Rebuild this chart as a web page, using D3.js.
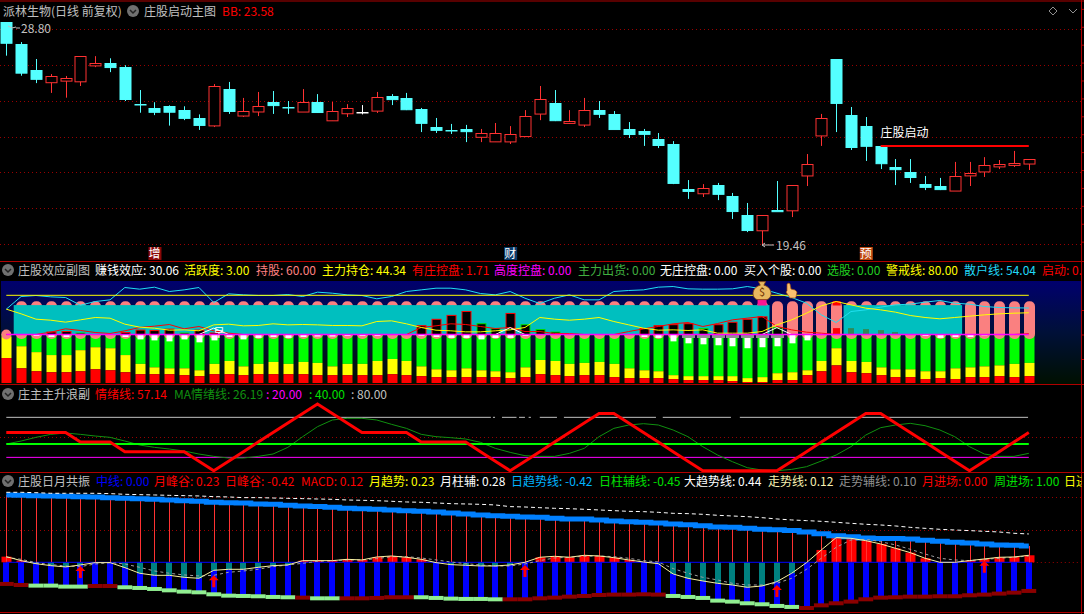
<html>
<head>
<meta charset="utf-8">
<script src="https://d3js.org/d3.v7.min.js"></script>
<style>
  body { margin: 0; background: #000; overflow: hidden; }
  text { font-family: "Noto Sans CJK SC", "Noto Sans", sans-serif; font-size: 12px; }
</style>
</head>
<body>
<div id="vis"></div>
<script>
// candles
var open = [28.80,27.88,26.79,26.26,26.34,26.30,26.97,27.08,26.91,25.36,25.20,25.28,25.11,24.78,24.46,25.99,24.87,25.04,25.45,25.24,25.04,25.45,24.67,24.96,25.05,25.08,25.70,25.62,25.15,24.40,24.27,24.32,23.98,23.79,23.79,24.02,24.96,25.41,24.57,24.50,25.11,24.95,24.32,24.23,23.90,23.69,21.80,21.61,21.97,21.51,20.72,20.06,20.93,20.90,22.36,24.04,27.25,24.90,24.44,23.61,22.73,22.52,22.01,21.93,21.73,22.36,22.53,22.74,22.81,22.86]
var close = [27.93,26.68,26.42,26.52,26.45,27.36,27.07,26.91,25.57,25.34,25.04,25.04,24.78,24.49,26.11,25.07,25.06,25.27,25.32,25.22,25.44,25.03,25.06,25.18,25.05,25.65,25.57,25.15,24.57,24.28,24.25,24.23,24.14,24.14,24.10,24.86,25.57,24.69,24.65,25.11,24.95,24.32,24.11,24.11,23.65,22.06,21.72,21.83,21.60,20.88,20.09,20.70,20.88,21.96,22.84,24.77,25.41,23.56,23.61,22.89,22.64,22.31,21.89,21.80,22.34,22.46,22.80,22.84,22.89,23.05]
var high = [28.80,27.96,27.25,26.62,26.54,27.36,27.37,27.28,26.99,25.95,25.44,25.31,25.27,24.93,26.20,26.29,25.62,25.87,25.91,25.49,25.99,25.78,25.45,25.36,25.32,25.87,25.78,25.83,25.20,24.78,24.53,24.49,24.32,24.57,24.44,25.11,26.12,25.95,25.11,25.62,25.49,25.07,24.61,24.32,24.15,23.81,22.18,22.01,22.06,21.64,21.22,20.70,22.14,21.96,23.27,24.95,27.25,25.24,24.82,23.61,23.06,23.06,22.35,22.27,22.94,22.94,23.14,23.02,23.40,23.05]
var low = [27.39,26.55,26.24,25.83,25.63,26.12,26.91,26.70,25.49,25.00,24.90,24.46,24.69,24.28,24.40,24.95,24.82,24.86,24.95,24.95,25.04,24.99,24.67,24.82,24.93,24.99,25.32,25.11,24.19,24.15,24.11,23.77,23.77,23.79,23.69,23.98,24.69,24.65,24.53,24.40,24.78,24.32,23.94,23.61,23.52,22.01,21.39,21.47,21.34,20.55,20.00,19.46,20.88,20.63,21.93,23.61,24.19,23.44,22.98,22.64,21.97,22.06,21.76,21.76,21.73,21.93,22.31,22.64,22.73,22.60]
var priceGrid = [28.5,27,25.5,24,22.5,21,19.5]
var priceHigh = 28.80
var priceLow = 19.46
var startPrice = 23.61
var startFrom = 59
var startLabel = "庄股启动"
var eventIndex = [10,34,58]
var eventLabels = ["增","财","预"]

// effect panel, stacked bars hang below zero
var yellowTop = [-4,-24,-36,-42,-42,-32,-26,-28,-42,-60,-67,-69,-69,-73,-60,-54,-65,-60,-56,-60,-56,-58,-65,-60,-60,-54,-50,-54,-65,-71,-73,-69,-73,-75,-77,-67,-52,-54,-60,-58,-56,-60,-69,-73,-75,-83,-85,-85,-85,-85,-89,-87,-79,-77,-73,-54,-28,-54,-56,-67,-71,-71,-75,-75,-69,-67,-65,-63,-60,-58]
var redTop = [-48,-69,-75,-77,-77,-75,-71,-73,-77,-81,-81,-81,-83,-85,-81,-81,-83,-81,-81,-81,-81,-83,-83,-83,-83,-83,-81,-83,-85,-87,-87,-87,-87,-87,-89,-87,-81,-83,-85,-83,-83,-87,-89,-89,-89,-91,-93,-93,-93,-95,-97,-97,-93,-93,-83,-75,-63,-77,-79,-83,-87,-87,-91,-89,-91,-87,-87,-85,-87,-85]
var whiteDrop = [0,0,-3,-5,-5,0,0,0,-5,-10,-12,-14,-10,-16,-12,-5,-10,-7,-5,-7,-5,-4,-4,-3,-3,-3,0,0,-3,-5,-7,-7,-10,-7,-7,-3,0,0,0,0,0,0,0,-5,-7,-14,-18,-20,-22,-24,-28,-26,-24,-18,-12,0,0,0,0,0,0,0,-3,-7,-5,-5,-2,0,0,0]
var controlIndex = [3,4,5,8,9,10,11,12,13,14,28,29,30,31,32,33,34,35,36,37,43,44,45,46,47,48,49,50,51,52]
var controlValue = [5,6,3,4,9,8,11,3,9,3,18,31,39,47,22,12,43,20,10,5,12,18,20,22,12,20,25,31,36,14]
var controlUp = [1,1,0,1,1,1,1,0,1,1,1,1,1,1,0,0,1,0,0,0,1,1,1,1,0,1,1,1,1,0]
var solidIndex = [56,57,58,59,60]
var solidValue = [13,13,11,9,5]
var retailLine = [51.7,77.5,79.6,76.8,75.5,59.8,67.3,70.7,95.9,92.5,96.6,87.7,91.1,95.9,65.3,83,80.9,79.6,79.6,81.6,77.5,86.4,84.3,80.9,79.6,72.8,77.5,87.7,91.1,94.5,94.5,91.1,83.6,80.9,87.7,74.1,63.2,74.1,80.9,70.7,70.7,87.7,89.8,91.1,96.6,97.9,93.2,92.5,92.5,93.2,97.9,93.2,84.3,75.5,63.9,40.1,24.5,46.9,50.3,55.8,60.5,61.9,66,69.4,63.9,61.9,57.1,55.1,54.4,54.04]
var mainLine = [51.7,42.2,31.3,29.2,25.2,29.9,34.7,33.3,21.1,15,12.9,8.8,9.5,7.5,19.7,21.1,17.7,18.4,21.8,19.7,20.4,19.7,18.4,18.4,17.7,26.5,27.9,21.8,14.3,8.8,7.5,5.4,5.4,7.5,9.5,14.3,34.7,31.3,29.2,31.3,34.7,26.5,19.7,12.9,8.8,9.5,8.2,9.5,2.7,2.7,2.7,6.1,19.7,29.9,43.5,58.5,67.3,60.5,53.7,50.3,45.6,38.8,34.7,32,34.7,37.4,40.1,42.2,43.5,44.34]
var bankerLine = [0,0,0,4.8,11.6,8.2,4.1,2,7.5,14.3,17,20.4,11.6,16.3,7.5,2.7,0,0,0,0,0,0,0,0,0,0,0,0,14.3,17.7,21.8,20.4,16.3,12.2,14.3,6,6,2,2,0,0,0,6,11.6,16.3,21.8,24.5,16.3,22.4,29.9,33.3,36.7,16.3,9.5,4.8,2.7,0,0,0,0,0,0,0,0,0,0,0,0,0,1.71]
var buyArchIndex = [13,14,15,33,34,35,51,52,53]
var buyArchValue = [0,13,0,0,14,0,0,14,0]
var alertValue = 80
var holdValue = 60
var holdRuns = [[1,51],[57,64]]
var pillTop = 68
var pillBottom = -9

// rising wave panel
var moodLine = [57.14,57.14,57.14,57.14,57.14,42.86,42.86,42.86,28.57,28.57,28.57,28.57,28.57,14.29,0,14.29,28.57,42.86,57.14,71.43,85.71,100,85.71,71.43,57.14,57.14,57.14,57.14,42.86,42.86,42.86,42.86,28.57,14.29,0,14.29,28.57,42.86,57.14,71.43,85.71,85.71,71.43,57.14,42.86,28.57,14.29,0,0,0,0,0,0,14.29,28.57,42.86,57.14,71.43,85.71,85.71,71.43,57.14,42.86,28.57,14.29,0,14.29,28.57,42.86,57.14]
var moodMa = [40,44.5,50,54.5,56.5,54.5,52,50,44.5,38.5,35,32.5,29.5,25,21.5,19,19,21.5,25,35,51,66,76,78.5,78.5,76,69.5,63.5,54.5,51,49.5,47.5,42.5,33.5,27.5,22.5,21.5,21.5,26,33.5,51,63.5,68.5,70.5,68.5,61,51,36,23.5,13.5,4.5,1,0,2,6,14.5,23.5,36,53.5,64.5,68.5,71,67.5,61,51,36,25,21.5,21.5,26]
var grayRuns = [[0,32.7],[32.84,32.98],[33.45,34.43],[34.6,35],[35.25,35.4],[36,37.16],[37.63,43.84],[44.3,48.9],[49.5,68.95]]
var moodLevels = [20,40,80]
var moodGrid = 50

// resonance panel
var monthTrend = [1.086,1.080,1.075,1.070,1.064,1.059,1.054,1.043,1.032,1.027,1.016,1.005,0.994,0.984,0.968,0.962,0.957,0.941,0.935,0.919,0.908,0.898,0.887,0.871,0.865,0.855,0.844,0.833,0.822,0.812,0.795,0.779,0.763,0.752,0.742,0.731,0.726,0.709,0.699,0.699,0.683,0.666,0.656,0.645,0.634,0.618,0.607,0.591,0.570,0.564,0.548,0.532,0.527,0.511,0.489,0.462,0.430,0.414,0.392,0.382,0.382,0.376,0.355,0.339,0.322,0.312,0.295,0.279,0.274,0.263]
var bigTrend = [1.129,1.129,1.123,1.113,1.113,1.113,1.113,1.107,1.097,1.091,1.086,1.080,1.075,1.070,1.059,1.054,1.043,1.043,1.037,1.032,1.027,1.021,1.016,1.005,1.0,0.994,0.984,0.973,0.968,0.957,0.946,0.941,0.935,0.925,0.898,0.892,0.881,0.871,0.865,0.855,0.844,0.833,0.822,0.817,0.806,0.790,0.785,0.774,0.758,0.747,0.736,0.720,0.699,0.683,0.672,0.661,0.645,0.629,0.613,0.602,0.586,0.564,0.548,0.532,0.521,0.511,0.500,0.489,0.468,0.457]
var dayBottom = [-.349,-.366,-.376,-.376,-.392,-.392,-.382,-.382,-.403,-.414,-.430,-.452,-.473,-.484,-.516,-.538,-.543,-.548,-.559,-.564,-.570,-.581,-.581,-.581,-.581,-.575,-.564,-.564,-.564,-.575,-.586,-.591,-.591,-.597,-.597,-.597,-.581,-.570,-.554,-.543,-.527,-.521,-.521,-.516,-.521,-.543,-.559,-.575,-.618,-.634,-.661,-.677,-.704,-.720,-.737,-.694,-.661,-.634,-.597,-.570,-.564,-.554,-.554,-.548,-.548,-.532,-.521,-.505,-.489,-.462]
var bottomFalling = [0,0,1,1,1,1,0,0,1,1,1,1,1,1,1,1,1,1,1,1,0,1,1,0,0,0,0,0,1,1,1,1,1,1,0,0,0,0,0,0,0,0,0,0,0,1,1,1,1,1,1,1,1,1,0,0,0,0,0,0,0,0,0,0,0,0,0,0,0,0]
var trendLine = [.091,.027,-.022,-.054,-.075,-.043,-.005,-.005,-.086,-.177,-.210,-.210,-.242,-.258,-.129,-.113,-.113,-.081,-.054,-.043,.027,.027,.027,.048,.038,.086,.102,.081,.048,-.005,-.038,-.048,-.059,-.059,-.043,0,.081,.097,.081,.113,.102,.075,.038,.005,-.022,-.188,-.258,-.301,-.339,-.366,-.403,-.382,-.312,-.177,-.005,.199,.398,.387,.349,.296,.226,.156,.065,0,0,.027,.054,.081,.086,.113]
var trendAux = [.081,.048,-.005,-.038,-.059,-.070,-.027,-.005,-.027,-.081,-.140,-.177,-.204,-.220,-.210,-.161,-.140,-.113,-.070,-.043,-.016,.016,.027,.038,.038,.059,.091,.091,.070,.038,.005,-.022,-.043,-.059,-.059,-.027,.027,.070,.081,.097,.102,.091,.065,.027,.005,-.102,-.177,-.242,-.285,-.339,-.366,-.366,-.339,-.258,-.113,.065,.242,.360,.371,.333,.280,.210,.134,.065,.038,.027,.048,.065,.081,.102]
var arrowIndex = [5,14,35,52,66]
var arrowValue = [-.059,-.21,-.043,-.366,.027]
var macdGrid = [0.516,1.048]

// header texts
var mainTitle = "派林生物(日线 前复权)"
var mainIndicator = "庄股启动主图"
var mainReading = "BB: 23.58"
var effectTitle = "庄股效应副图"
var effectNames = ["赚钱效应","活跃度","持股","主力持仓","有庄控盘","高度控盘","主力出货","无庄控盘","买入个股","选股","警戒线","散户线","启动"]
var effectValues = ["30.06","3.00","60.00","44.34","1.71","0.00","0.00","0.00","0.00","0.00","80.00","54.04","0."]
var moodTitle = "庄主主升浪副"
var moodNames = ["情绪线","MA情绪线","","",""]
var moodValues = ["57.14","26.19","20.00","40.00","80.00"]
var macdTitle = "庄股日月共振"
var macdNames = ["中线","月峰谷","日峰谷","MACD","月趋势","月柱辅","日趋势线","日柱辅线","大趋势线","走势线","走势辅线","月进场","周进场","日进"]
var macdValues = ["0.00","0.23","-0.42","0.12","0.23","0.28","-0.42","-0.45","0.44","0.12","0.10","0.00","1.00",""]

// layout and colours
var width = 1084
var height = 614
var right = 1081.5
var cyan = "#54FFFF", red = "#FF3232", pure = "#FF0000"
var effectX = [95,184,256,322,412,494,578,660,744,827,886,964,1042]
var effectC = ["#FFFFFF","#FFFF00","#FF8080","#FFFF00","#FF0000","#FF00FF","#40B040","#FFFFFF","#FFFFFF","#20D020","#FFFF00","#20D8F8","#FF0000"]
var moodX = [95,174,266,309,351]
var moodC = ["#FF0000","#109010","#FF00FF","#00E000","#C0C0C0"]
var macdX = [96,154,225,301,369,440,511,599,684,768,839,922,994,1064]
var macdC = ["#0000FF","#FF0000","#FF0000","#FF0000","#FFFF00","#FFFFFF","#00B4FF","#00E000","#FFFFFF","#F8F0B0","#909090","#FF0000","#00E000","#FFFF00"]

var svg = d3.select("#vis").append("svg").attr("width", width).attr("height", height)
var defs = svg.append("defs")
var grad = defs.append("linearGradient").attr("id", "effectBg").attr("x1", 0).attr("x2", 0).attr("y1", 0).attr("y2", 1)
grad.append("stop").attr("offset", "0%").attr("stop-color", "#00006E")
grad.append("stop").attr("offset", "50%").attr("stop-color", "#001038")
grad.append("stop").attr("offset", "100%").attr("stop-color", "#001000")
defs.append("clipPath").attr("id", "frame").append("rect").attr("width", right).attr("height", height)

svg.append("rect").attr("width", width).attr("height", height).attr("fill", "#000")

// shared x scale, one slot per trading day
var x = d3.scaleLinear().domain([0, 69]).range([6.3, 1028.8])
var slot = x(1) - x(0)
var days = d3.range(open.length)

var yPrice = d3.scaleLinear().domain([priceLow, priceHigh]).range([245, 22])
var yEffect = d3.scaleLinear().domain([-100, 100]).range([383.5, 285.5])
var yMood = d3.scaleLinear().domain([0, 100]).range([470.7, 404])
var yMacd = d3.scaleLinear().domain([-1, 1]).range([624.3, 500.3])

function dotted(g, y1, from, to) {
  g.append("line").attr("x1", from).attr("x2", to).attr("y1", y1).attr("y2", y1)
    .attr("stroke", "#990000").attr("stroke-dasharray", "1 3")
}

// ---- main price panel
var main = svg.append("g")
priceGrid.forEach(function(p) { dotted(main, Math.round(yPrice(p)) + 0.5, 0, right) })

main.selectAll("line.wick").data(days).enter().append("line")
  .attr("x1", function(i) { return Math.round(x(i)) + 0.5 })
  .attr("x2", function(i) { return Math.round(x(i)) + 0.5 })
  .attr("y1", function(i) { return yPrice(high[i]) })
  .attr("y2", function(i) { return yPrice(low[i]) })
  .attr("stroke", function(i) { return candleColor(i) })

main.selectAll("rect.body").data(days).enter().append("rect")
  .attr("x", function(i) { return Math.round(x(i)) - 5 })
  .attr("width", 11)
  .attr("y", function(i) { return Math.round(yPrice(Math.max(open[i], close[i]))) + 0.5 })
  .attr("height", function(i) { return Math.max(Math.abs(yPrice(open[i]) - yPrice(close[i])), 0.5) })
  .attr("fill", function(i) { return close[i] > open[i] ? "#000" : candleColor(i) })
  .attr("stroke", function(i) { return candleColor(i) })

function candleColor(i) {
  if (close[i] > open[i]) return red
  if (close[i] < open[i]) return cyan
  return "#FFFFFF"
}

// start line with its label
main.append("line").attr("x1", x(startFrom)).attr("x2", x(69))
  .attr("y1", yPrice(startPrice)).attr("y2", yPrice(startPrice))
  .attr("stroke", pure).attr("stroke-width", 2)
main.append("text").attr("x", x(startFrom)).attr("y", yPrice(startPrice) - 9).attr("fill", "#FFF").text(startLabel)

// extreme price notes
main.append("path").attr("d", "M8 26l4 2 4-1m0 1h4").attr("fill", "none").attr("stroke", "#C0C0C0")
main.append("text").attr("x", 21).attr("y", yPrice(priceHigh) + 11).attr("fill", "#C0C0C0").text(priceHigh.toFixed(2))
main.append("path").attr("transform", "translate(" + x(51) + "," + yPrice(priceLow) + ")")
  .attr("d", "M0 0h12M0 0l3 -2M0 0l3 2").attr("fill", "none").attr("stroke", "#C0C0C0")
main.append("text").attr("x", x(51) + 14).attr("y", yPrice(priceLow) + 5).attr("fill", "#C0C0C0").text(priceLow.toFixed(2))

// event badges along the bottom of the price panel
var badgeBg = ["#8A0808","#0A3A6A","#C04A10"]
var badgeFg = ["#FFFFFF","#FFFFFF","#FFFFFF"]
eventIndex.forEach(function(d, k) {
  main.append("rect").attr("x", x(d) - 6).attr("y", 247).attr("width", 13).attr("height", 13).attr("fill", badgeBg[k])
  main.append("text").attr("x", x(d)).attr("y", 258).attr("text-anchor", "middle").attr("fill", badgeFg[k]).text(eventLabels[k])
})

// ---- effect panel
var fx = svg.append("g")
fx.append("rect").attr("x", 1).attr("y", 281).attr("width", right - 1).attr("height", 103).attr("fill", "url(#effectBg)")

function stack(from, to, color) {
  fx.selectAll(null).data(days).enter().append("rect")
    .attr("x", function(i) { return Math.round(x(i)) - 4.5 })
    .attr("width", 10)
    .attr("y", function(i) { return yEffect(to(i)) })
    .attr("height", function(i) { return yEffect(from(i)) - yEffect(to(i)) })
    .attr("fill", color)
}
stack(function(i) { return yellowTop[i] }, function() { return 0 }, "#00FF00")
stack(function(i) { return redTop[i] }, function(i) { return yellowTop[i] }, "#FFFF00")
stack(function() { return -99 }, function(i) { return redTop[i] }, "#FF0000")

// salmon pills, the teal block hides their middle
fx.selectAll(null).data(days.slice(1)).enter().append("rect")
  .attr("x", function(i) { return Math.round(x(i)) - 5 })
  .attr("width", 11)
  .attr("y", yEffect(pillTop))
  .attr("height", yEffect(pillBottom) - yEffect(pillTop))
  .attr("rx", 5).attr("fill", "#FA8080")
fx.append("circle").attr("cx", x(0)).attr("cy", yEffect(0)).attr("r", 5).attr("fill", "#FA8080")

holdRuns.forEach(function(r) {
  fx.append("rect").attr("x", x(r[0]) - slot / 2).attr("width", slot * (r[1] - r[0] + 1))
    .attr("y", yEffect(holdValue)).attr("height", yEffect(0) - yEffect(holdValue)).attr("fill", "#00BFBF")
})

// white drops and gray caps under zero
fx.selectAll(null).data(days.filter(function(i) { return whiteDrop[i] < 0 })).enter().append("rect")
  .attr("x", function(i) { return Math.round(x(i)) - 2.5 })
  .attr("width", 6)
  .attr("y", yEffect(0))
  .attr("height", function(i) { return yEffect(whiteDrop[i]) - yEffect(0) })
  .attr("fill", "#FFF")
fx.selectAll(null).data(d3.range(46, 53)).enter().append("rect")
  .attr("x", function(i) { return Math.round(x(i)) - 6 })
  .attr("width", 13)
  .attr("y", yEffect(0))
  .attr("height", 3.5)
  .attr("fill", "#909090")

// hollow control bars
fx.selectAll(null).data(controlIndex).enter().append("rect")
  .attr("x", function(d) { return Math.round(x(d)) - 4 })
  .attr("width", 9)
  .attr("y", function(d, k) { return yEffect(controlValue[k]) })
  .attr("height", function(d, k) { return yEffect(0) - yEffect(controlValue[k]) })
  .attr("fill", "#000")
  .attr("stroke", function(d, k) { return controlUp[k] ? pure : "#00E000" })
fx.selectAll(null).data(solidIndex).enter().append("rect")
  .attr("x", function(d) { return Math.round(x(d)) - 3 })
  .attr("width", function(d) { return d == 56 ? 7 : 6 })
  .attr("y", function(d, k) { return yEffect(solidValue[k]) })
  .attr("height", function(d, k) { return yEffect(0) - yEffect(solidValue[k]) })
  .attr("fill", function(d) { return d == 56 ? pure : "#2E8B57" })

// caps at the signal days
fx.append("rect").attr("x", x(51) - 4.5).attr("width", 9).attr("y", 298).attr("height", 7.5).attr("fill", "#FF1493")
fx.append("rect").attr("x", x(56) - 3.5).attr("width", 8).attr("y", 301).attr("height", 4.5).attr("fill", pure)

function lineOf(ys, yScale) {
  return d3.line().x(function(i) { return x(i) }).y(function(i) { return yScale(ys[i]) })
}
fx.append("path").attr("d", lineOf(bankerLine, yEffect)(days)).attr("fill", "none").attr("stroke", pure)
fx.append("path").attr("d", lineOf(retailLine, yEffect)(days)).attr("fill", "none").attr("stroke", "#20E0F0")
fx.append("path").attr("d", lineOf(mainLine, yEffect)(days)).attr("fill", "none").attr("stroke", "#FFFF00")
d3.range(0, buyArchIndex.length, 3).forEach(function(k) {
  var seg = d3.line().x(function(j) { return x(buyArchIndex[j]) }).y(function(j) { return yEffect(buyArchValue[j]) })
  fx.append("path").attr("d", seg([k, k + 1, k + 2])).attr("fill", "none").attr("stroke", "#FFF")
})
fx.append("text").attr("x", 219).attr("y", 337).attr("text-anchor", "middle").attr("fill", "#FFF").style("font-size", "11px").text("早")

fx.append("line").attr("x1", x(0)).attr("x2", x(69)).attr("y1", yEffect(alertValue)).attr("y2", yEffect(alertValue)).attr("stroke", "#FFFF00")
fx.append("line").attr("x1", x(0)).attr("x2", x(69)).attr("y1", yEffect(0)).attr("y2", yEffect(0)).attr("stroke", "#FF00FF").attr("stroke-width", 1.5)

// money bag and pointing hand
var bag = fx.append("g").attr("transform", "translate(" + x(51) + ",290) scale(1.2)")
bag.append("path").attr("d", "M-3 -7h6l-1.5 3c4 1 6 4 6 7s-2 5 -4 5h-7c-2 0 -4 -2 -4 -5s2 -6 6 -7z").attr("fill", "#E8B860").attr("stroke", "#804010").attr("stroke-width", 0.7)
bag.append("text").attr("y", 5).attr("text-anchor", "middle").attr("fill", "#703000").style("font-size", "9px").text("$")
fx.append("path").attr("d", "M787 284l2 -1 1 1 1 5 4 1 2 2 -1 5 -1 1h-5l-4 -6 1 -1z").attr("fill", "#F8C070").attr("stroke", "#A05010").attr("stroke-width", 0.7)

// ---- wave panel
var wave = svg.append("g")
dotted(wave, Math.round(yMood(moodGrid)) + 0.5, 0, right)
grayRuns.forEach(function(r) {
  wave.append("line").attr("x1", x(r[0])).attr("x2", x(r[1])).attr("y1", yMood(moodLevels[2])).attr("y2", yMood(moodLevels[2])).attr("stroke", "#C0C0C0")
})
wave.append("line").attr("x1", x(0)).attr("x2", x(69)).attr("y1", yMood(moodLevels[0])).attr("y2", yMood(moodLevels[0])).attr("stroke", "#FF00FF")
wave.append("path").attr("d", lineOf(moodMa, yMood)(days)).attr("fill", "none").attr("stroke", "#109010")
wave.append("line").attr("x1", x(0)).attr("x2", x(69)).attr("y1", yMood(moodLevels[1])).attr("y2", yMood(moodLevels[1])).attr("stroke", "#00FF00").attr("stroke-width", 2)
wave.append("path").attr("d", lineOf(moodLine, yMood)(days)).attr("fill", "none").attr("stroke", pure).attr("stroke-width", 3)

// ---- resonance panel
var mc = svg.append("g")
macdGrid.forEach(function(v) { dotted(mc, Math.round(yMacd(v)) + 0.5, 0, right) })
dotted(mc, Math.round(yMacd(0)) + 0.5, x(69), right)

mc.selectAll(null).data(days).enter().append("rect")
  .attr("x", function(i) { return Math.round(x(i)) - 3 })
  .attr("width", 6)
  .attr("y", yMacd(0))
  .attr("height", function(i) { return yMacd(dayBottom[i]) - yMacd(0) })
  .attr("fill", "#0000FF")
mc.selectAll(null).data(days).enter().append("rect")
  .attr("x", function(i) { return Math.round(x(i)) - (trendLine[i] > 0 ? 4.5 : 3) })
  .attr("width", function(i) { return trendLine[i] > 0 ? 10 : 6 })
  .attr("y", function(i) { return trendLine[i] > 0 ? yMacd(trendLine[i]) : yMacd(0) })
  .attr("height", function(i) { return Math.abs(yMacd(trendLine[i]) - yMacd(0)) })
  .attr("fill", function(i) { return trendLine[i] > 0 ? pure : "#008080" })

// thin stems up to the month band
mc.selectAll(null).data(days).enter().append("line")
  .attr("x1", function(i) { return Math.round(x(i)) + 0.5 })
  .attr("x2", function(i) { return Math.round(x(i)) + 0.5 })
  .attr("y1", yMacd(0))
  .attr("y2", function(i) { return yMacd(monthTrend[i]) })
  .attr("stroke", red)

mc.append("line").attr("x1", x(0)).attr("x2", x(69)).attr("y1", yMacd(0)).attr("y2", yMacd(0)).attr("stroke", "#0000FF")

// stepped bands, month on top, day at the bottom
mc.append("path").attr("d", lineOf(monthTrend, yMacd).curve(d3.curveStep)(days))
  .attr("fill", "none").attr("stroke", "#0080FF").attr("stroke-width", 5)
mc.append("path").attr("d", lineOf(bigTrend, yMacd)(days))
  .attr("fill", "none").attr("stroke", "#FFF").attr("stroke-dasharray", "4 3")
mc.selectAll(null).data(days).enter().append("rect")
  .attr("x", function(i) { return x(i) - slot / 2 })
  .attr("width", slot)
  .attr("y", function(i) { return yMacd(dayBottom[i]) - 2 })
  .attr("height", 4)
  .attr("fill", function(i) { return bottomFalling[i] ? "#90EE90" : "#8B0000" })

mc.append("path").attr("d", lineOf(trendAux, yMacd)(days))
  .attr("fill", "none").attr("stroke", "#A0A0A0").attr("stroke-dasharray", "3 3")
mc.append("path").attr("d", lineOf(trendLine, yMacd)(days))
  .attr("fill", "none").attr("stroke", "#F8F0A0")

arrowIndex.forEach(function(d, k) {
  var tip = yMacd(arrowValue[k])
  mc.append("path").attr("transform", "translate(" + x(d) + "," + tip + ")")
    .attr("d", "M0 0l5 5h-3.5v7h-3v-7h-3.5z").attr("fill", pure)
})

// ---- frame and right axis
var frame = svg.append("g").attr("stroke", "#B00000")
;[1, 261.5, 384.5, 472.5, 612.5].forEach(function(y1) {
  frame.append("line").attr("x1", 0).attr("x2", width).attr("y1", y1).attr("y2", y1)
})
var axis = d3.axisRight(yPrice).tickValues(d3.range(19.6, 30, 0.75)).tickFormat("").tickSize(3)
svg.append("g").attr("transform", "translate(" + right + ",0)").call(axis)
  .call(function(g) { g.selectAll("line").attr("stroke", "#B00000"); g.select(".domain").attr("stroke", "none") })
svg.append("g").attr("transform", "translate(" + right + ",0)").call(d3.axisRight(yEffect).tickValues([-50, 0, 50]).tickFormat("").tickSize(3))
  .call(function(g) { g.selectAll("line").attr("stroke", "#B00000"); g.select(".domain").attr("stroke", "none") })
frame.append("line").attr("x1", right).attr("x2", right).attr("y1", 0).attr("y2", height)

// ---- header rows
function chevron(cx, cy) {
  svg.append("circle").attr("cx", cx).attr("cy", cy).attr("r", 6).attr("fill", "#707070")
  svg.append("path").attr("d", "M" + (cx - 3) + " " + (cy - 1) + "l3 3 3 -3").attr("fill", "none").attr("stroke", "#222").attr("stroke-width", 1.5)
}
var heads = svg.append("g").attr("clip-path", "url(#frame)")
function row(title, names, values, xs, colors, y1) {
  chevron(8, y1 - 5)
  heads.append("text").attr("x", 18).attr("y", y1).attr("fill", "#C0C0C0").text(title)
  names.forEach(function(n, k) {
    heads.append("text").attr("x", xs[k]).attr("y", y1).attr("fill", colors[k]).text(values[k] ? n + ": " + values[k] : n)
  })
}
heads.append("text").attr("x", 3).attr("y", 16).attr("fill", "#C0C0C0").text(mainTitle)
chevron(133, 11)
heads.append("text").attr("x", 144).attr("y", 16).attr("fill", "#C0C0C0").text(mainIndicator)
heads.append("text").attr("x", 222).attr("y", 16).attr("fill", "#FF0000").text(mainReading)
svg.append("path").attr("d", "M1053 7l4 4 -4 4 -4 -4z").attr("fill", "none").attr("stroke", "#909090")
svg.append("path").attr("d", "M1069 9l4 4 4 -4").attr("fill", "none").attr("stroke", "#909090")

row(effectTitle, effectNames, effectValues, effectX, effectC, 275)
row(moodTitle, moodNames, moodValues, moodX, moodC, 399)
row(macdTitle, macdNames, macdValues, macdX, macdC, 486)
</script>
</body>
</html>
